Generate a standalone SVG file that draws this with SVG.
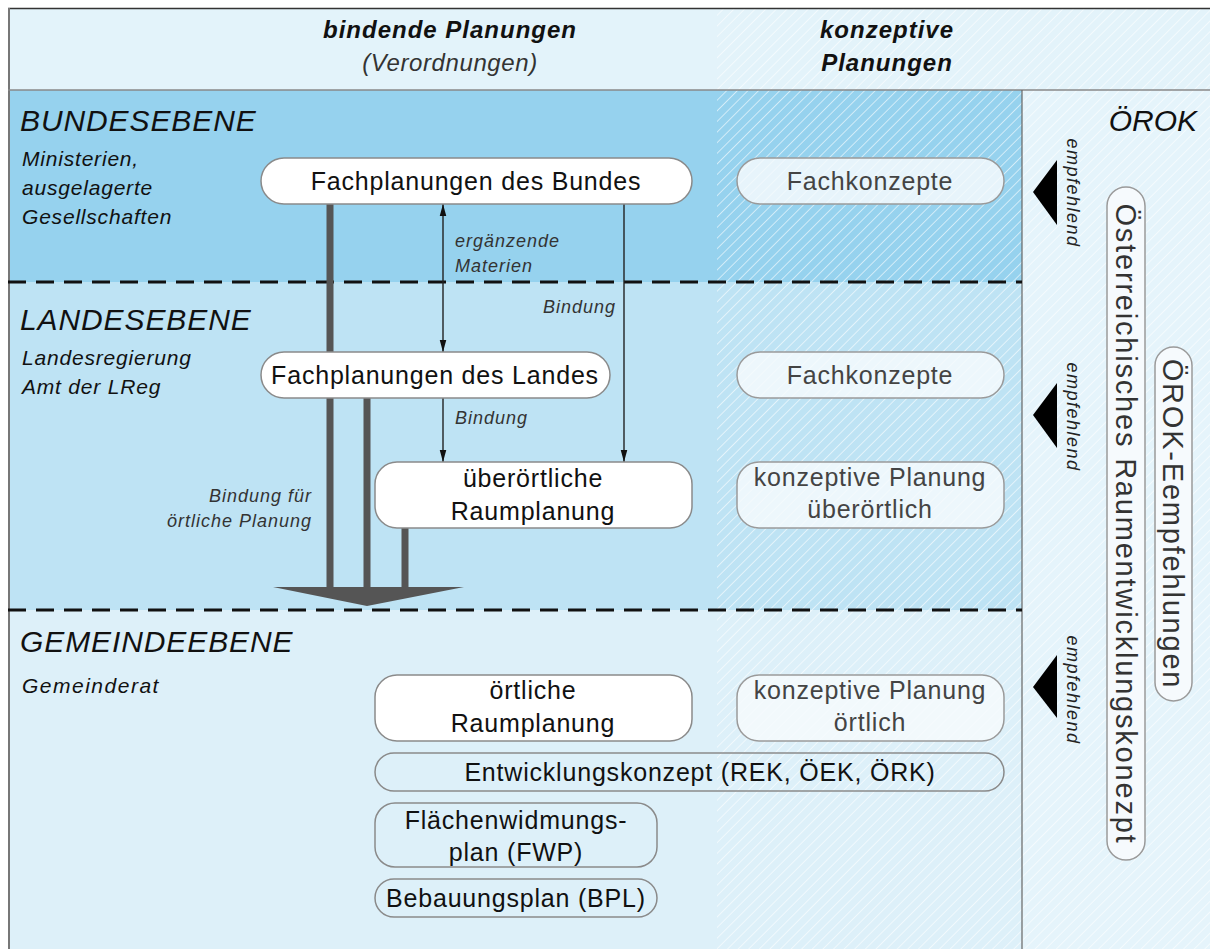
<svg xmlns="http://www.w3.org/2000/svg" width="1210" height="949" viewBox="0 0 1210 949">
<style>
text{font-family:"Liberation Sans",Arial,sans-serif;}
.lvl{font-size:30px;font-style:italic;fill:#111;letter-spacing:0.9px;}
.sub{font-size:21px;font-style:italic;fill:#111;letter-spacing:0.8px;}
.hd{font-size:24px;font-style:italic;font-weight:bold;fill:#111;letter-spacing:1px;}
.hd2{font-size:24px;font-style:italic;fill:#333;letter-spacing:0.6px;}
.nb{fill:#fff;stroke:#8a8a8a;stroke-width:1.5;}
.nc{fill:#f6fafd;fill-opacity:0.85;stroke:#9a9a9a;stroke-width:1.5;}
.nt{fill:none;stroke:#8a8a8a;stroke-width:1.5;}
.tb{font-size:25px;fill:#111;text-anchor:middle;letter-spacing:0.8px;}
.tc{font-size:25px;fill:#444;text-anchor:middle;letter-spacing:0.8px;}
.lab{font-size:18px;font-style:italic;fill:#333;letter-spacing:1px;}
.emp{font-size:18px;font-style:italic;fill:#222;text-anchor:middle;letter-spacing:1.5px;}
.vt{font-size:29px;fill:#333;text-anchor:middle;letter-spacing:1.8px;}
.dash{stroke:#111;stroke-width:3;stroke-dasharray:18 10;fill:none;}
.thick{stroke:#555;stroke-width:7;fill:none;}
.thin{stroke:#222;stroke-width:1.4;fill:none;}
</style>
<defs>
<pattern id="hatch" patternUnits="userSpaceOnUse" width="7.5" height="7.5" patternTransform="rotate(45)">
<line x1="0" y1="0" x2="0" y2="7.5" stroke="#fff" stroke-width="1.3" stroke-opacity="0.85"/>
</pattern>
<marker id="ah" markerWidth="12" markerHeight="24" refX="22" refY="6" viewBox="0 0 22 12" markerUnits="userSpaceOnUse" orient="auto-start-reverse">
<path d="M0,0 L22,6 L0,12 Z" fill="#111"/>
</marker>
</defs>
<g id="background">
<rect x="0" y="0" width="1210" height="949" fill="#fff"/>
<rect x="8" y="8" width="1202" height="82" fill="#e3f3fa"/>
<rect x="8" y="90" width="1014" height="192" fill="#96d2ee"/>
<rect x="8" y="282" width="1014" height="328" fill="#bee3f4"/>
<rect x="8" y="610" width="1014" height="339" fill="#ddf0f9"/>
<rect x="1022" y="90" width="188" height="859" fill="#e5f4fb"/>
<rect x="717" y="8" width="493" height="941" fill="url(#hatch)"/>
<line x1="8" y1="8.5" x2="1210" y2="8.5" stroke="#333" stroke-width="1.5"/>
<line x1="9" y1="8" x2="9" y2="949" stroke="#777" stroke-width="2"/>
<line x1="8" y1="90" x2="1210" y2="90" stroke="#888" stroke-width="1.5"/>
<line x1="1022" y1="90" x2="1022" y2="949" stroke="#666" stroke-width="1.2"/>
<line x1="8" y1="282" x2="1022" y2="282" class="dash"/>
<line x1="8" y1="610" x2="1022" y2="610" class="dash"/>
</g>
<g id="headers">
<text class="hd" x="450" y="38" text-anchor="middle">bindende Planungen</text>
<text class="hd2" x="450" y="71" text-anchor="middle">(Verordnungen)</text>
<text class="hd" x="887" y="38" text-anchor="middle">konzeptive</text>
<text class="hd" x="887" y="71" text-anchor="middle">Planungen</text>
</g>
<g id="levels">
<text class="lvl" x="20" y="131">BUNDESEBENE</text>
<text class="sub" x="22" y="166">Ministerien,</text>
<text class="sub" x="22" y="195">ausgelagerte</text>
<text class="sub" x="22" y="224">Gesellschaften</text>
<text class="lvl" x="20" y="330">LANDESEBENE</text>
<text class="sub" x="22" y="365">Landesregierung</text>
<text class="sub" x="22" y="394">Amt der LReg</text>
<text class="lvl" x="20" y="652">GEMEINDEEBENE</text>
<text class="sub" x="22" y="693" style="letter-spacing:1.5px">Gemeinderat</text>
<text class="lvl" x="1197" y="131" text-anchor="end" style="letter-spacing:0">ÖROK</text>
</g>
<g id="connectors">
<line class="thick" x1="330" y1="204" x2="330" y2="588"/>
<line class="thick" x1="367" y1="398" x2="367" y2="588"/>
<line class="thick" x1="405" y1="528" x2="405" y2="588"/>
<path d="M273,587 L464,587 L367,606 Z" fill="#555"/>
<line class="thin" x1="443" y1="204" x2="443" y2="352" marker-start="url(#ah)" marker-end="url(#ah)"/>
<line class="thin" x1="443" y1="398" x2="443" y2="462" marker-end="url(#ah)"/>
<line class="thin" x1="624" y1="204" x2="624" y2="462" marker-end="url(#ah)"/>
<text class="lab" x="455" y="247">ergänzende</text>
<text class="lab" x="455" y="272">Materien</text>
<text class="lab" x="616" y="313" text-anchor="end">Bindung</text>
<text class="lab" x="455" y="424">Bindung</text>
<text class="lab" x="312" y="502" text-anchor="end">Bindung für</text>
<text class="lab" x="312" y="527" text-anchor="end">örtliche Planung</text>
<path d="M1033,192 L1057,160 L1057,225 Z" fill="#000"/>
<path d="M1033,415 L1057,383 L1057,448 Z" fill="#000"/>
<path d="M1033,687 L1057,655 L1057,718 Z" fill="#000"/>
<text class="emp" transform="translate(1067,193) rotate(90)">empfehlend</text>
<text class="emp" transform="translate(1067,417) rotate(90)">empfehlend</text>
<text class="emp" transform="translate(1067,690) rotate(90)">empfehlend</text>
</g>
<g id="n-bund">
<rect class="nb" x="261" y="158" width="431" height="46" rx="23"/>
<text class="tb" x="476" y="190">Fachplanungen des Bundes</text>
</g>
<g id="n-fk1">
<rect class="nc" x="737" y="158" width="267" height="46" rx="23"/>
<text class="tc" x="870" y="190">Fachkonzepte</text>
</g>
<g id="n-land">
<rect class="nb" x="261" y="352" width="349" height="46" rx="23"/>
<text class="tb" x="435" y="384">Fachplanungen des Landes</text>
</g>
<g id="n-fk2">
<rect class="nc" x="737" y="352" width="267" height="46" rx="23"/>
<text class="tc" x="870" y="384">Fachkonzepte</text>
</g>
<g id="n-uebero">
<rect class="nb" x="375" y="462" width="317" height="66" rx="22"/>
<text class="tb" x="533" y="487">überörtliche</text>
<text class="tb" x="533" y="520">Raumplanung</text>
</g>
<g id="n-kpu">
<rect class="nc" x="737" y="462" width="267" height="66" rx="22"/>
<text class="tc" x="870" y="486">konzeptive Planung</text>
<text class="tc" x="870" y="518">überörtlich</text>
</g>
<g id="n-oert">
<rect class="nb" x="375" y="675" width="317" height="66" rx="22"/>
<text class="tb" x="533" y="699">örtliche</text>
<text class="tb" x="533" y="732">Raumplanung</text>
</g>
<g id="n-kpo">
<rect class="nc" x="737" y="675" width="267" height="66" rx="22"/>
<text class="tc" x="870" y="699">konzeptive Planung</text>
<text class="tc" x="870" y="731">örtlich</text>
</g>
<g id="n-ek">
<rect class="nt" x="375" y="753" width="629" height="38" rx="19"/>
<text class="tb" x="700" y="781">Entwicklungskonzept (REK, ÖEK, ÖRK)</text>
</g>
<g id="n-fwp">
<rect class="nt" x="375" y="803" width="282" height="64" rx="20"/>
<text class="tb" x="516" y="829">Flächenwidmungs-</text>
<text class="tb" x="516" y="861">plan (FWP)</text>
</g>
<g id="n-bpl">
<rect class="nt" x="375" y="879" width="282" height="38" rx="19"/>
<text class="tb" x="516" y="907">Bebauungsplan (BPL)</text>
</g>
<g id="n-oerek">
<rect x="1107" y="187" width="38" height="673" rx="19" fill="#f6fafd" stroke="#9a9a9a" stroke-width="1.5"/>
<text class="vt" transform="translate(1126,524) rotate(90)" y="10">Österreichisches Raumentwicklungskonezpt</text>
</g>
<g id="n-empf">
<rect x="1155" y="347" width="37" height="354" rx="18.5" fill="#f6fafd" stroke="#9a9a9a" stroke-width="1.5"/>
<text class="vt" transform="translate(1173,524) rotate(90)" y="10">ÖROK-Eempfehlungen</text>
</g>
</svg>
